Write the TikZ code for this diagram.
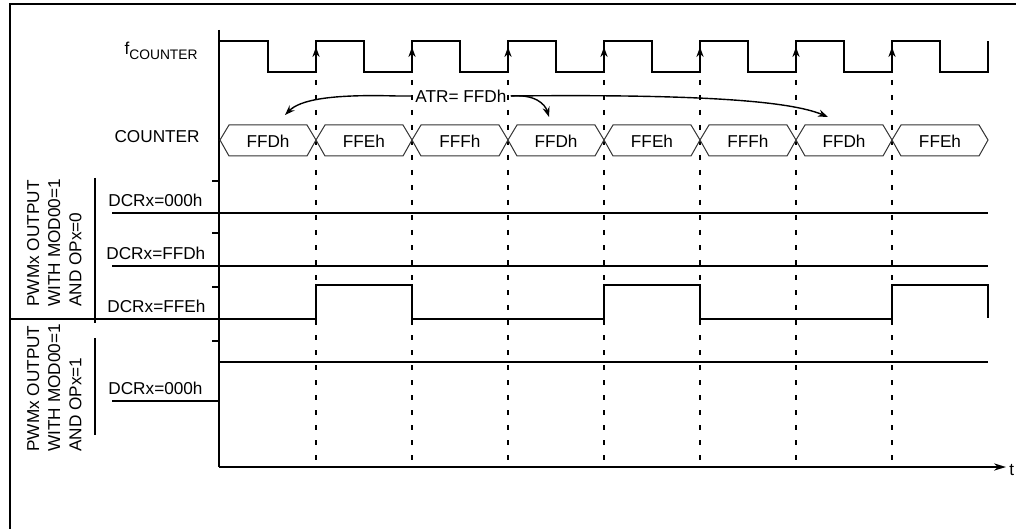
\documentclass[tikz,border=0pt]{standalone}
\usepackage{fontspec}
\setmainfont{Liberation Sans}
\usetikzlibrary{arrows.meta}

\begin{document}
\begin{tikzpicture}[x=0.5pt, y=-0.5pt,
    wave/.style={line width=1pt},
    busline/.style={line width=0.5pt, black!80},
    vgrid/.style={line width=1pt, dash pattern=on 2.5pt off 5pt},
    lbl/.style={font=\fontsize{8.6}{10.6}\selectfont, inner sep=0pt},
    tip/.style={-{Stealth[length=5pt, width=3.6pt]}, line width=0.7pt}]
        \useasboundingbox (0,0) rectangle (1016,529);
        \draw[line width=1pt] (10,529) -- (10,4) -- (1016,4);
        % time axis
        \draw[wave] (219,30) -- (219,467);
        \draw[wave, -{Stealth[length=6pt, width=3.6pt]}] (219,467) -- (1006,467);
        \node[lbl, anchor=west] (t) at (1009,470) {t};
        % counter clock
        \node[lbl, anchor=base east] (fclk) at (198,55)
            {f\raisebox{-0.45ex}{\fontsize{6.9}{8}\selectfont COUNTER}};
        \draw[wave] (219,41) \foreach \k in {0,...,7} {
            -- ({268+96*\k},41) -- ({268+96*\k},72) -- ({316+96*\k},72) -- ({316+96*\k},41) };
        \foreach \k in {0,...,6} {
            \draw[tip] ({316+96*\k},70) -- ({316+96*\k},47);
            \draw[vgrid] ({316+96*\k},80) -- ({316+96*\k},467);
        }
        % counter values
        \node[lbl, anchor=east] (cnt) at (200,137) {COUNTER};
        \foreach \v [count=\i from 0] in {FFDh,FFEh,FFFh,FFDh,FFEh,FFFh,FFDh,FFEh} {
            \draw[busline, fill=white] ({220+96*\i},140) -- ({229+96*\i},125) -- ({307+96*\i},125)
                -- ({316+96*\i},140) -- ({307+96*\i},156) -- ({229+96*\i},156) -- cycle;
            \node[lbl] (c\i) at ({268+96*\i},141) {\v};
        }
        % reload arrows
        \node[lbl, inner sep=2pt, anchor=west] (atr) at (411,96) {ATR= FFDh};
        \coordinate (r1) at (285,115);
        \coordinate (r2) at (549,117);
        \coordinate (r3) at (828,117);
        \draw[tip] (atr.west) -- ++(-14,0) .. controls (330,94) and (300,100) .. (r1);
        \draw[tip] (atr.east) .. controls (535,94) and (545,104) .. (r2);
        \draw[tip] (atr.east) .. controls (700,94) and (790,101) .. (r3);
        % output groups
        \node[lbl, rotate=90, align=left, anchor=south west] (grp0) at (82,307)
            {PWMx OUTPUT\\WITH MOD00=1\\AND OPx=0};
        \node[lbl, rotate=90, align=left, anchor=south west] (grp1) at (82,452)
            {PWMx OUTPUT\\WITH MOD00=1\\AND OPx=1};
        \draw[wave] (95,178) -- (95,323);
        \draw[wave] (95,338) -- (95,435);
        \foreach \y in {181,233,287,341}
            \draw[wave] (212,\y) -- (219,\y);
        \node[lbl, anchor=base west] (d0) at (108,206) {DCRx=000h};
        \node[lbl, anchor=base west] (d1) at (106,259) {DCRx=FFDh};
        \node[lbl, anchor=base west] (d2) at (107,312) {DCRx=FFEh};
        \node[lbl, anchor=base west] (d3) at (108,394) {DCRx=000h};
        \draw[wave] (112,213) -- (988,213);
        \draw[wave] (112,266) -- (988,266);
        \draw[wave] (10,319) -- (316,319) -- (316,285) -- (412,285) -- (412,319) -- (604,319)
            -- (604,285) -- (700,285) -- (700,319) -- (892,319) -- (892,285) -- (988,285) -- (988,318);
        \draw[wave] (112,401) -- (219,401);
        \draw[wave] (219,362) -- (988,362);
    \end{tikzpicture}
\end{document}
